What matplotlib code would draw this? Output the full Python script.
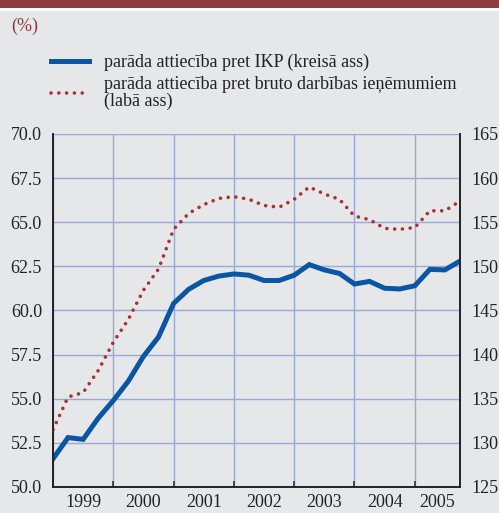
import numpy as np
import matplotlib.pyplot as plt
from matplotlib.lines import Line2D
import matplotlib.patches as mpatches

plt.rcParams['font.family'] = ['Liberation Serif', 'DejaVu Serif']

# quarterly data, 1999 Q1 .. 2005 Q4
quarters = np.arange(28)
gdp_ratio = [51.6, 52.8, 52.7, 53.9, 54.9, 56.0, 57.4, 58.5,
             60.4, 61.2, 61.7, 61.95, 62.07, 62.0, 61.7, 61.7,
             62.0, 62.6, 62.3, 62.1, 61.5, 61.65, 61.26, 61.22,
             61.4, 62.33, 62.3, 62.8]
income_ratio = [131.5, 135.2, 135.7, 138.2, 141.4, 144.0, 147.3, 149.7,
                154.2, 156.0, 157.0, 157.7, 157.9, 157.6, 156.9, 156.7,
                157.6, 159.0, 158.2, 157.6, 155.7, 155.3, 154.3, 154.2,
                154.4, 156.3, 156.3, 157.4]
years = ['1999', '2000', '2001', '2002', '2003', '2004', '2005']

x = 1999 + quarters / 4.0

bg = '#e6e7e9'
grid_c = '#9aa9dc'
blue = '#0b56a3'
red = '#a8322f'
dark_red = '#8e3a3f'

fig = plt.figure(figsize=(4.99, 5.13), dpi=100)
fig.patch.set_facecolor(bg)

# top band
fig.patches.append(mpatches.Rectangle((0, 1 - 8/513.), 1, 8/513., transform=fig.transFigure,
                                      facecolor=dark_red, edgecolor='none'))
fig.patches.append(mpatches.Rectangle((0, 1 - 11/513.), 1, 3/513., transform=fig.transFigure,
                                      facecolor='white', edgecolor='none'))
fig.text(11/499., 1 - 26/513., '(%)', color=dark_red, fontsize=13, va='center', ha='left')

ax = fig.add_axes([53/499., 1 - 487/513., (460 - 53)/499., (487 - 134)/513.])
ax.set_facecolor(bg)
ax2 = ax.twinx()

ax.set_xlim(1999, 2005.75)
ax.set_ylim(50, 70)
ax2.set_ylim(125, 165)

ax.set_yticks(np.arange(50, 70.1, 2.5))
ax.set_yticklabels(['%.1f' % v for v in np.arange(50, 70.1, 2.5)])
ax2.set_yticks(np.arange(125, 166, 5))

ax.set_xticks(np.arange(1999, 2006))
ax.set_xticklabels([])
ax.set_xticks([int(y) + 0.5 for y in years[:-1]] + [2005.375], minor=True)
ax.set_xticklabels(years, minor=True)

ax.grid(True, which='major', color=grid_c, linewidth=1.0)
ax.set_axisbelow(True)

ax.tick_params(axis='x', which='major', direction='in', length=4, width=1.2, color='#333333')
ax.tick_params(axis='x', which='minor', length=0, labelsize=13, pad=5, colors='#222222')
ax.tick_params(axis='y', length=0, labelsize=13, pad=8, colors='#222222')
ax2.tick_params(axis='y', length=0, labelsize=13, pad=8, colors='#222222')

for a in (ax, ax2):
    a.spines['top'].set_visible(False)
    for s in ('left', 'right', 'bottom'):
        a.spines[s].set_color('#222222')
        a.spines[s].set_linewidth(1.2)

ax.plot(x, gdp_ratio, color=blue, linewidth=3.6, solid_joinstyle='miter')
ax2.plot(x, income_ratio, color=red, linewidth=2.6, linestyle=(0, (0.01, 2.15)),
         dash_capstyle='round')

handles = [Line2D([], [], color=blue, linewidth=3.6),
           Line2D([], [], color=red, linewidth=2.6, linestyle=(0, (0.01, 2.15)),
                  dash_capstyle='round')]
labels = ['parāda attiecība pret IKP (kreisā ass)',
          'parāda attiecība pret bruto darbības ieņēmumiem\n(labā ass)']
leg = fig.legend(handles, labels, loc='upper left', bbox_to_anchor=(51/499., 1 - 54/513.),
                 frameon=False, fontsize=13, handlelength=2.1, handletextpad=0.85,
                 labelspacing=0.25, borderaxespad=0, borderpad=0)
for t in leg.get_texts():
    t.set_color('#222222')
    t.set_linespacing(1.0)

fig.savefig('out.png', dpi=100, facecolor=bg)
